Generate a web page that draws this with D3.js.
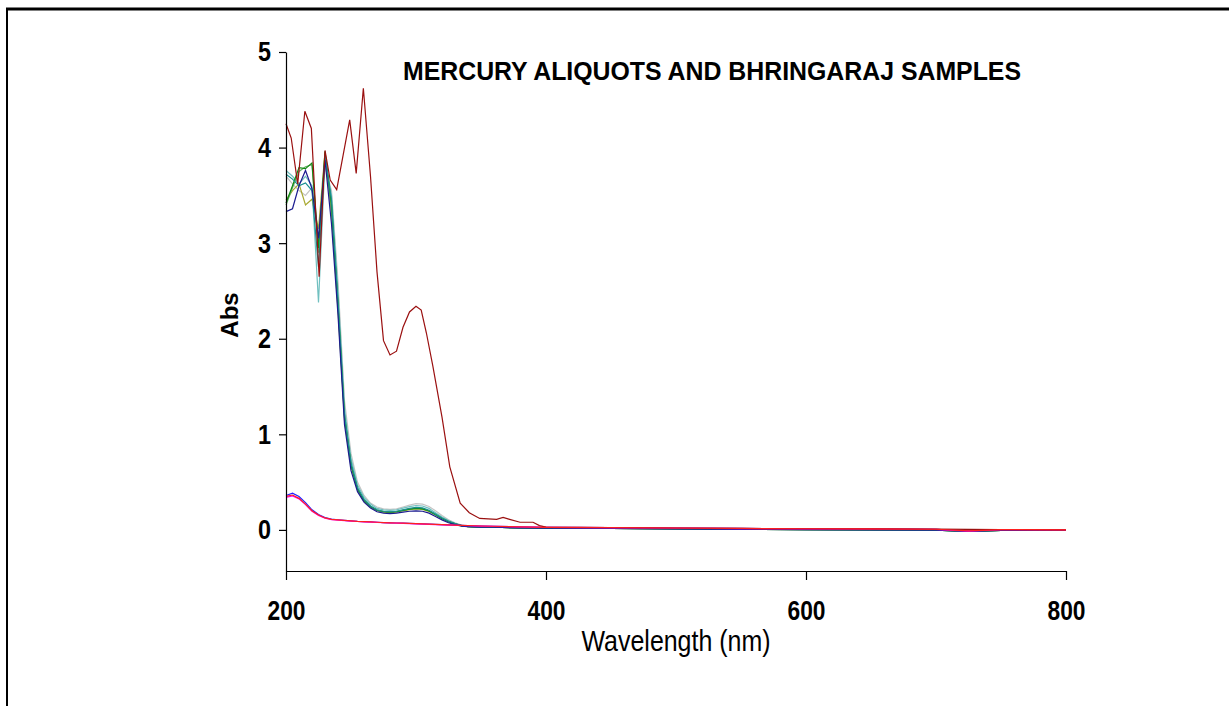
<!DOCTYPE html>
<html>

<head>
	<meta charset="utf-8">
	<script src="https://cdn.jsdelivr.net/npm/d3@7"></script>
	<style>
		body {
			margin: 0;
			background: #fff;
		}

		.line {
			fill: none;
			stroke-width: 1.2;
		}

		.axis path,
		.axis line {
			stroke: #000;
			stroke-width: 1.2;
		}

		.axis text {
			font-family: "Liberation Sans", Arial, sans-serif;
			font-size: 28px;
			font-weight: bold;
			fill: #000;
		}
	</style>
</head>

<body>
	<svg></svg>
	<script>
		// shared wavelength grid (nm)
		var wl = [200, 205, 210, 215, 220, 225, 230, 235, 240, 245, 250, 255, 260, 265, 270, 275, 280, 285, 290, 295,
			300, 305, 310, 315, 320, 325, 330, 335, 340, 350, 360, 380, 400, 450, 500, 550, 600, 650, 700, 725, 750, 800];

		// Bhringaraj samples
		var navyAbs = [3.33, 3.36, 3.6, 3.76, 3.57, 3.05, 3.87, 3.2, 2.25, 1.1, 0.62, 0.4, 0.29, 0.23, 0.19, 0.175, 0.17, 0.175, 0.185, 0.195,
			0.2, 0.195, 0.175, 0.14, 0.105, 0.075, 0.055, 0.04, 0.034, 0.03, 0.028, 0.022, 0.018, 0.015, 0.011, 0.006, 0.003, 0.001, -0.002, -0.016, -0.004, -0.006];
		var tealAbs = [3.72, 3.67, 3.6, 3.63, 3.55, 2.75, 3.92, 3.45, 2.4, 1.2, 0.7, 0.44, 0.32, 0.25, 0.21, 0.195, 0.19, 0.195, 0.21, 0.225,
			0.235, 0.23, 0.205, 0.165, 0.125, 0.09, 0.065, 0.045, 0.036, 0.03, 0.028, 0.022, 0.018, 0.015, 0.011, 0.006, 0.003, 0.001, -0.002, -0.016, -0.004, -0.006];
		var greenAbs = [3.42, 3.6, 3.79, 3.78, 3.84, 2.95, 3.96, 3.4, 2.35, 1.18, 0.68, 0.43, 0.31, 0.245, 0.205, 0.19, 0.185, 0.19, 0.205, 0.218,
			0.225, 0.22, 0.198, 0.16, 0.12, 0.087, 0.063, 0.044, 0.035, 0.03, 0.028, 0.022, 0.018, 0.015, 0.011, 0.006, 0.003, 0.001, -0.002, -0.016, -0.004, -0.006];
		var oliveAbs = [3.45, 3.55, 3.62, 3.4, 3.46, 3.15, 3.95, 3.3, 2.3, 1.15, 0.66, 0.42, 0.3, 0.24, 0.2, 0.185, 0.18, 0.185, 0.2, 0.212,
			0.22, 0.215, 0.193, 0.155, 0.117, 0.085, 0.061, 0.043, 0.035, 0.03, 0.028, 0.022, 0.018, 0.015, 0.011, 0.006, 0.003, 0.001, -0.002, -0.016, -0.004, -0.006];
		var grayAbs = [3.7, 3.62, 3.55, 3.5, 3.58, 3.1, 3.8, 3.55, 2.6, 1.35, 0.8, 0.5, 0.36, 0.28, 0.24, 0.22, 0.215, 0.22, 0.24, 0.26,
			0.275, 0.27, 0.245, 0.2, 0.15, 0.105, 0.075, 0.05, 0.038, 0.031, 0.029, 0.023, 0.019, 0.016, 0.012, 0.007, 0.004, 0.002, -0.001, -0.015, -0.003, -0.005];
		var lightTealAbs = [3.76, 3.7, 3.62, 3.7, 3.6, 2.38, 3.85, 3.5, 2.5, 1.28, 0.75, 0.47, 0.34, 0.27, 0.225, 0.21, 0.205, 0.21, 0.228, 0.243,
			0.255, 0.25, 0.225, 0.18, 0.135, 0.097, 0.07, 0.048, 0.037, 0.03, 0.028, 0.022, 0.018, 0.015, 0.011, 0.006, 0.003, 0.001, -0.002, -0.016, -0.004, -0.006];
		var lightGreenAbs = [3.4, 3.58, 3.75, 3.8, 3.82, 2.9, 3.9, 3.35, 2.38, 1.2, 0.69, 0.43, 0.31, 0.245, 0.207, 0.192, 0.187, 0.192, 0.207, 0.22,
			0.228, 0.223, 0.2, 0.162, 0.122, 0.088, 0.064, 0.045, 0.035, 0.03, 0.028, 0.022, 0.018, 0.015, 0.011, 0.006, 0.003, 0.001, -0.002, -0.016, -0.004, -0.006];

		// Mercury aliquots
		var blueAbs = [0.36, 0.385, 0.35, 0.285, 0.21, 0.16, 0.13, 0.113, 0.106, 0.1, 0.095, 0.09, 0.087, 0.083, 0.08, 0.077, 0.074, 0.072, 0.07, 0.068,
			0.065, 0.063, 0.06, 0.058, 0.055, 0.053, 0.05, 0.048, 0.046, 0.041, 0.038, 0.032, 0.027, 0.024, 0.02, 0.015, 0.012, 0.01, 0.007, -0.01, 0.003, 0.001];
		var magentaAbs = [0.34, 0.355, 0.325, 0.265, 0.195, 0.152, 0.122, 0.108, 0.102, 0.097, 0.092, 0.088, 0.085, 0.081, 0.078, 0.075, 0.072, 0.07, 0.068, 0.066,
			0.063, 0.061, 0.058, 0.056, 0.053, 0.051, 0.048, 0.046, 0.044, 0.04, 0.037, 0.031, 0.026, 0.023, 0.019, 0.014, 0.011, 0.009, 0.006, -0.012, 0.002, 0.0];
		var redAbs = [0.35, 0.365, 0.33, 0.27, 0.2, 0.155, 0.125, 0.11, 0.105, 0.1, 0.095, 0.09, 0.087, 0.083, 0.08, 0.077, 0.074, 0.072, 0.07, 0.068,
			0.065, 0.063, 0.06, 0.058, 0.055, 0.053, 0.05, 0.048, 0.046, 0.041, 0.038, 0.032, 0.027, 0.024, 0.02, 0.015, 0.012, 0.01, 0.007, -0.01, 0.003, 0.001];

		// strongest sample, own wavelength points
		var darkRedWl = [200, 204, 209, 214.5, 219.5, 225.5, 230, 234, 239, 249, 254, 259.5, 265, 270, 275, 280, 285, 290, 295, 300,
			304, 308, 313, 320, 326, 334, 341, 349, 362, 367, 372, 380, 390, 395, 400, 450, 500, 550, 600, 650, 700, 750, 800];
		var darkRedAbs = [4.25, 4.1, 3.62, 4.38, 4.2, 2.65, 3.97, 3.66, 3.56, 4.29, 3.73, 4.62, 3.7, 2.7, 1.98, 1.83, 1.87, 2.12, 2.28, 2.34,
			2.3, 2.06, 1.71, 1.18, 0.66, 0.28, 0.18, 0.12, 0.11, 0.13, 0.11, 0.08, 0.08, 0.045, 0.03, 0.025, 0.02, 0.015, 0.012, 0.01, 0.008, 0.003, 0.0];

		var xTicks = [200, 400, 600, 800];
		var yTicks = [0, 1, 2, 3, 4, 5];

		var series = [
			{ "x": wl, "y": grayAbs, "color": "#c4c4c4" },
			{ "x": wl, "y": lightTealAbs, "color": "#70c0c0" },
			{ "x": wl, "y": oliveAbs, "color": "#a8a830" },
			{ "x": wl, "y": lightGreenAbs, "color": "#66b066" },
			{ "x": wl, "y": greenAbs, "color": "#118811" },
			{ "x": wl, "y": tealAbs, "color": "#1a9090" },
			{ "x": wl, "y": navyAbs, "color": "#1c1c90" },
			{ "x": wl, "y": blueAbs, "color": "#2020ff" },
			{ "x": wl, "y": magentaAbs, "color": "#ff00ff" },
			{ "x": darkRedWl, "y": darkRedAbs, "color": "#9a1010" },
			{ "x": wl, "y": redAbs, "color": "#ff2020" }
		];

		var width = 1229;
		var height = 706;
		var margins = { "left": 286, "right": 163, "top": 52, "bottom": 135 };

		var svg = d3.select('svg')
			.attr("width", width)
			.attr("height", height);

		// frame
		svg.append("line")
			.attr("x1", 6).attr("x2", width).attr("y1", 9).attr("y2", 9)
			.attr("stroke", "#000").attr("stroke-width", 3);
		svg.append("line")
			.attr("x1", 7).attr("x2", 7).attr("y1", 8).attr("y2", height)
			.attr("stroke", "#000").attr("stroke-width", 2);

		var x = d3.scaleLinear()
			.domain([200, 800])
			.range([margins.left, width - margins.right]);
		var y = d3.scaleLinear()
			.domain([-0.43, 5])
			.range([height - margins.bottom, margins.top]);

		var line = d3.line()
			.x(d => x(d[0]))
			.y(d => y(d[1]));

		series.forEach(s => {
			svg.append("path")
				.attr("class", "line")
				.attr("d", line(d3.zip(s.x, s.y)))
				.style("stroke", s.color);
		});

		// axes, labels squeezed to look like a narrow face
		svg.append("g")
			.attr("class", "axis")
			.attr("transform", "translate(0," + (height - margins.bottom) + ")")
			.call(d3.axisBottom(x).tickValues(xTicks).tickFormat(d3.format("d")).tickSize(9).tickSizeOuter(0).tickPadding(20))
			.selectAll("text")
			.attr("textLength", 38)
			.attr("lengthAdjust", "spacingAndGlyphs");
		svg.append("g")
			.attr("class", "axis")
			.attr("transform", "translate(" + margins.left + ",0)")
			.call(d3.axisLeft(y).tickValues(yTicks).tickFormat(d3.format("d")).tickSize(7).tickSizeOuter(0).tickPadding(8))
			.selectAll("text")
			.attr("textLength", 13)
			.attr("lengthAdjust", "spacingAndGlyphs");

		svg.append("text")
			.attr("x", 676)
			.attr("y", 651)
			.attr("text-anchor", "middle")
			.attr("textLength", 189)
			.attr("lengthAdjust", "spacingAndGlyphs")
			.style("font-family", "'Liberation Sans', Arial, sans-serif")
			.style("font-size", "29px")
			.text("Wavelength (nm)");

		svg.append("text")
			.attr("transform", "translate(238,315) rotate(-90)")
			.attr("text-anchor", "middle")
			.style("font-family", "'Liberation Sans', Arial, sans-serif")
			.style("font-size", "24px")
			.style("font-weight", "bold")
			.text("Abs");

		svg.append("text")
			.attr("x", 403)
			.attr("y", 80)
			.attr("textLength", 618)
			.attr("lengthAdjust", "spacingAndGlyphs")
			.style("font-family", "'Liberation Sans', Arial, sans-serif")
			.style("font-size", "25px")
			.style("font-weight", "bold")
			.text("MERCURY ALIQUOTS AND BHRINGARAJ SAMPLES");
	</script>
</body>

</html>
